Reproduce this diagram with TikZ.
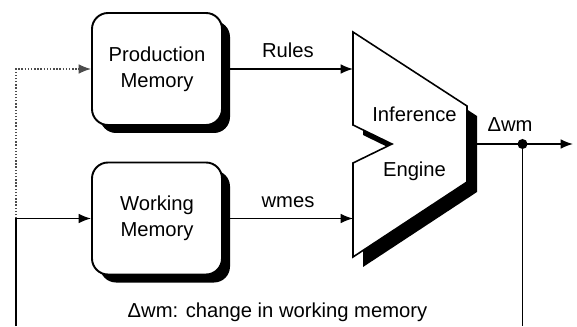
\documentclass[tikz,border=0pt]{standalone}
\usepackage{fontspec}
\setmainfont{Liberation Sans}
\usetikzlibrary{calc}
\usetikzlibrary{arrows.meta, shadows}

\begin{document}
\begin{tikzpicture}[
		>={Latex[length=7pt,width=5.5pt]},
		font=\fontsize{11.5}{14.7}\selectfont,
		mem/.style={draw, line width=1.1pt, fill=white, rounded corners=0.32cm,
			minimum width=2.6cm, minimum height=2.24cm, align=center,
			drop shadow={fill=black, opacity=1, shadow xshift=0.16cm, shadow yshift=-0.16cm}},
		flow/.style={->, line width=0.8pt},
		fb/.style={line width=0.8pt},
		engine/.style={fill=white, draw, line width=0.9pt},
	]
	\useasboundingbox (0,0) rectangle (11.54,6.52);
	% memories
	\node[mem] (pm) at (3.14,5.14) {Production\\Memory};
	\node[mem] (wm) at (3.14,2.15) {Working\\Memory};
	% inference engine
	\coordinate (eng-a) at (7.06,5.88);
	\coordinate (eng-b) at (9.34,4.40);
	\coordinate (eng-c) at (9.34,2.88);
	\coordinate (eng-d) at (7.06,1.38);
	\coordinate (eng-e) at (7.06,3.26);
	\coordinate (eng-f) at (7.84,3.64);
	\coordinate (eng-g) at (7.06,4.02);
	\fill[black, transform canvas={xshift=0.2cm, yshift=-0.2cm}]
		(eng-a) -- (eng-b) -- (eng-c) -- (eng-d) -- (eng-e) -- (eng-f) -- (eng-g) -- cycle;
	\draw[engine] (eng-a) -- (eng-b) -- (eng-c) -- (eng-d) -- (eng-e) -- (eng-f) -- (eng-g) -- cycle;
	\node[align=center] (eng) at (8.29,3.64) {Inference\\[16.5pt]Engine};
	% inputs
	\draw[flow] (pm.east) -- (pm.east -| eng-a)
		node[midway, anchor=base, yshift=0.22cm] (rules) {Rules};
	\draw[flow] (wm.east) -- (wm.east -| eng-a)
		node[midway, anchor=base, yshift=0.22cm] (wmes) {wmes};
	% output and feedback
	\coordinate (eng-out) at ($(eng-b)!0.5!(eng-c)+(0.2,0)$);
	\coordinate (split) at (10.45,3.64);
	\coordinate (out) at (11.46,3.64);
	\coordinate (fb-end) at (10.45,0);
	\coordinate (fb-bot) at (0.32,0);
	\coordinate (fb-mid) at (0.32,2.15);
	\draw[flow] (eng-out) -- (out);
	\draw[fb] (split) -- (fb-end);
	\fill (split) circle (0.1);
	\node[anchor=base] (dwm) at ($(split)+(-0.25,0.24)$) {Δwm};
	\draw[flow] (fb-bot) |- (wm.west);
	\draw[flow, densely dotted, black!70] (fb-mid) |- (pm.west);
	\node[anchor=base] (note) at (5.55,0.18) {Δwm: change in working memory};
\end{tikzpicture}
\end{document}
